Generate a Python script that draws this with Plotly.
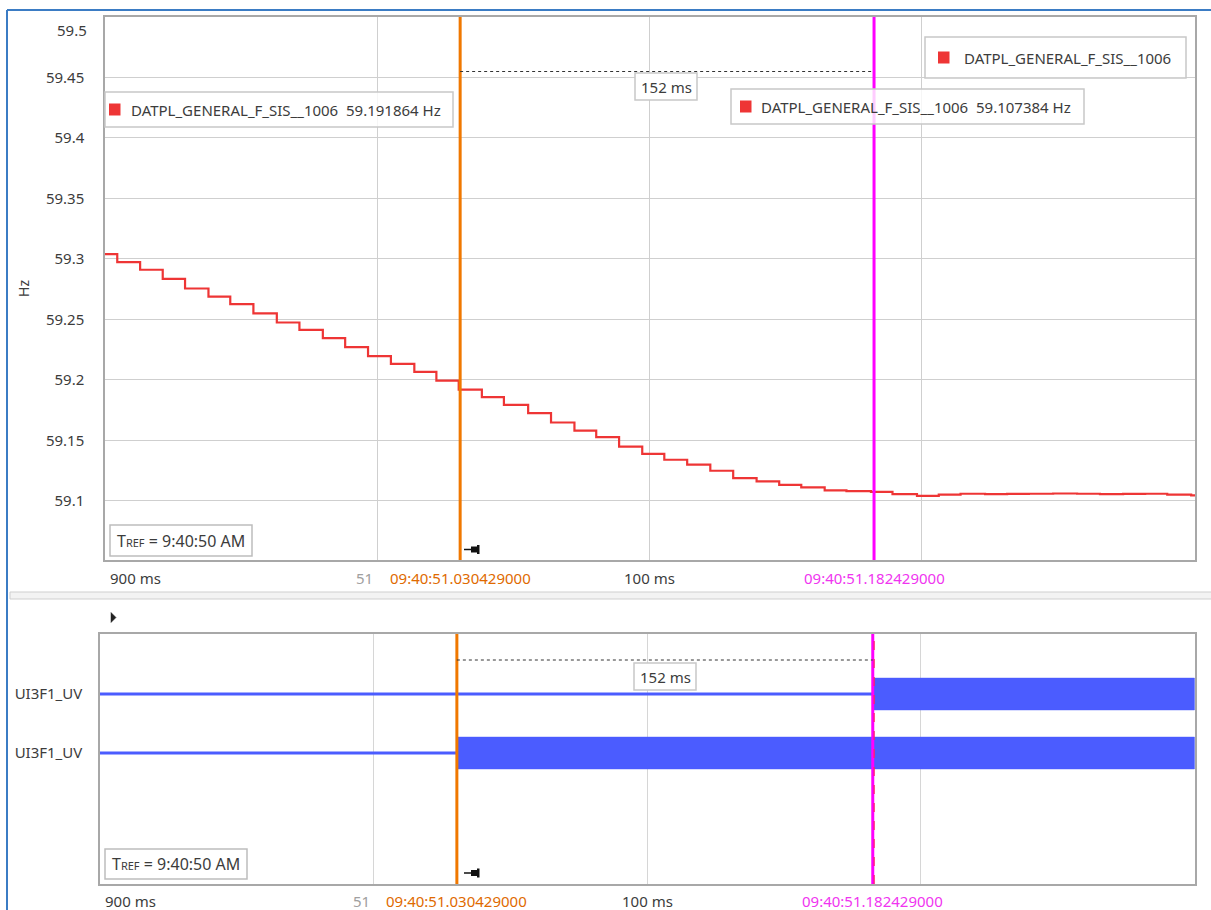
import plotly.graph_objects as go

W, H = 1211, 910
FONT = "Noto Sans"
FS = 15

# ---------------- data ----------------
# time in ms after 09:40:50 (TREF), i.e. 900 ms = 09:40:50.900
freq_t = [900.0, 904.5, 912.9, 921.2, 929.4, 938.0, 946.0, 954.5, 963.1, 971.4,
          980.0, 988.2, 996.6, 1005.0, 1013.6, 1021.7, 1029.9, 1038.4, 1046.5, 1055.4,
          1063.8, 1072.4, 1080.4, 1088.8, 1097.3, 1105.4, 1113.8, 1122.3, 1130.7, 1139.3,
          1147.6, 1155.7, 1164.3, 1172.3, 1181.3, 1189.2, 1198.2, 1206.2, 1214.2, 1223.2,
          1231.3, 1239.3, 1248.2, 1257.0, 1265.4, 1273.9, 1282.0, 1290.1, 1298.9, 1300.5]
freq_hz = [59.3039, 59.2973, 59.2910, 59.2835, 59.2755, 59.2688, 59.2626, 59.2550, 59.2474, 59.2413,
           59.2344, 59.2270, 59.2196, 59.2132, 59.2066, 59.1994, 59.191864, 59.1857, 59.1793, 59.1724,
           59.1647, 59.1580, 59.1526, 59.1448, 59.1388, 59.1339, 59.1298, 59.1248, 59.1187, 59.1160,
           59.1132, 59.1110, 59.1085, 59.1080, 59.107384, 59.1055, 59.1040, 59.1050, 59.1058, 59.1055,
           59.1056, 59.1058, 59.1060, 59.1058, 59.1055, 59.1057, 59.1058, 59.1050, 59.1045, 59.1040]

y_ticks = [59.1, 59.15, 59.2, 59.25, 59.3, 59.35, 59.4, 59.45, 59.5]
y_tick_text = ["59.1", "59.15", "59.2", "59.25", "59.3", "59.35", "59.4", "59.45", "59.5"]
x_ticks = [900, 1000, 1100, 1200, 1300]
x_tick_text = ["900 ms", "51", "100 ms", "", ""]

cursor1_ms = 1030.429
cursor2_ms = 1182.429
cursor1_label = "09:40:51.030429000"
cursor2_label = "09:40:51.182429000"
delta_label = "152 ms"

signal_names = ["UI3F1_UV", "UI3F1_UV"]
signal_rows = [1, 0]
signal_switch_ms = [1182.8, 1030.7]
signal_end_ms = 1300

series_name = "DATPL_GENERAL_F_SIS__1006"
cursor1_value = "59.191864 Hz"
cursor2_value = "59.107384 Hz"
tref_text = "T<span style='font-size:11px'>REF</span> = 9:40:50 AM"

# ---------------- colours ----------------
RED = "#ee3535"
BLUE = "#4b5cff"
ORANGE = "#f07800"
MAGENTA = "#ff00ff"
GRID = "#cfcfcf"
FRAME = "#a8a8a8"
TXT = "#3c3c3c"
BOXLINE = "#c8c8c8"


def px(x):
    return x / W


def py(y):
    return 1 - y / H


fig = go.Figure()

# top: frequency step line
fig.add_trace(go.Scatter(x=freq_t, y=freq_hz, mode="lines", line=dict(color=RED, width=2.2, shape="hv"),
                         xaxis="x", yaxis="y", hoverinfo="skip"))

# bottom: binary signals
band = 0.27
for name, row, sw in zip(signal_names, signal_rows, signal_switch_ms):
    fig.add_trace(go.Scatter(x=[900, sw], y=[row, row], mode="lines", line=dict(color=BLUE, width=3),
                             xaxis="x2", yaxis="y2", hoverinfo="skip"))
    fig.add_trace(go.Scatter(x=[sw, signal_end_ms, signal_end_ms, sw, sw],
                             y=[row - band, row - band, row + band, row + band, row - band],
                             mode="lines", fill="toself", fillcolor=BLUE, line=dict(color=BLUE, width=0.5),
                             xaxis="x2", yaxis="y2", hoverinfo="skip"))

axis_common = dict(showline=True, linecolor=FRAME, linewidth=1.5, mirror=True, zeroline=False)

fig.update_layout(
    width=W, height=H, margin=dict(l=0, r=0, t=0, b=0),
    paper_bgcolor="white", plot_bgcolor="white", showlegend=False,
    font=dict(family=FONT, size=FS, color=TXT),
    xaxis=dict(domain=[px(105), px(1195)], range=[900, 1300.3], tickvals=x_ticks, showticklabels=False,
               anchor="y", showgrid=True, gridcolor=GRID, gridwidth=1, **axis_common),
    yaxis=dict(domain=[py(560), py(17)], range=[59.051, 59.5], tickvals=y_ticks[:-1], ticktext=y_tick_text[:-1],
               anchor="x", showgrid=True, gridcolor=GRID, gridwidth=1, ticks="", ticklabelstandoff=16,
               title=dict(text="Hz", font=dict(size=14), standoff=13), **axis_common),
    xaxis2=dict(domain=[px(100), px(1195)], range=[900, 1300.2], tickvals=x_ticks, showticklabels=False,
                anchor="y2", showgrid=True, gridcolor="#d6d6d6", gridwidth=1, **axis_common),
    yaxis2=dict(domain=[py(884), py(634)], range=[-2.22, 2.017], tickvals=signal_rows, ticktext=signal_names,
                anchor="x2", showgrid=False, ticks="", ticklabelstandoff=13, **axis_common),
)

shapes = []
ann = []

# window frame (blue) and panel separator
shapes.append(dict(type="line", xref="paper", yref="paper", x0=px(7), x1=px(7), y0=py(10), y1=py(912),
                   line=dict(color="#3b7cc4", width=2)))
shapes.append(dict(type="line", xref="paper", yref="paper", x0=px(7), x1=px(1213), y0=py(10), y1=py(10),
                   line=dict(color="#3b7cc4", width=2)))
shapes.append(dict(type="rect", xref="paper", yref="paper", x0=px(10), x1=px(1213), y0=py(599), y1=py(592),
                   line=dict(color="#cfcfcf", width=1), fillcolor="#f3f3f3"))
# small expander triangle
shapes.append(dict(type="path", xref="paper", yref="paper",
                   path=f"M {px(111)} {py(612.5)} L {px(116)} {py(617.5)} L {px(111)} {py(622.5)} Z",
                   fillcolor="#222", line=dict(color="#222", width=0.5)))

# cursors
for xa, ya in (("x", "y"), ("x2", "y2")):
    shapes.append(dict(type="line", xref=xa, yref=f"{ya} domain", x0=cursor1_ms, x1=cursor1_ms, y0=0, y1=1,
                       line=dict(color=ORANGE, width=3)))
    shapes.append(dict(type="line", xref=xa, yref=f"{ya} domain", x0=cursor2_ms, x1=cursor2_ms, y0=0, y1=1,
                       line=dict(color=MAGENTA, width=3)))
shapes.append(dict(type="line", xref="x2", yref="y2 domain", x0=cursor2_ms + 0.5, x1=cursor2_ms + 0.5, y0=0, y1=1,
                   line=dict(color="#ff2060", width=1.2, dash="dash")))

# delta dotted lines
for xa, ypix in (("x", 71.5), ("x2", 660)):
    shapes.append(dict(type="line", xref=xa, yref="paper", x0=cursor1_ms, x1=cursor2_ms, y0=py(ypix), y1=py(ypix),
                       line=dict(color="#333", width=1, dash="dot")))

# pin icons
for ycen in (549.5, 873):
    shapes.append(dict(type="line", xref="paper", yref="paper", x0=px(464), x1=px(472), y0=py(ycen), y1=py(ycen),
                       line=dict(color="#111", width=1.5)))
    shapes.append(dict(type="rect", xref="paper", yref="paper", x0=px(471), x1=px(477), y0=py(ycen + 3),
                       y1=py(ycen - 3), fillcolor="#111", line=dict(width=0)))
    shapes.append(dict(type="rect", xref="paper", yref="paper", x0=px(477), x1=px(479.5), y0=py(ycen + 4.5),
                       y1=py(ycen - 4.5), fillcolor="#111", line=dict(width=0)))

# 59.5 tick label (placed just inside top like the original)
ann.append(dict(xref="paper", yref="paper", x=px(89), y=py(30), text=y_tick_text[-1], showarrow=False,
                xanchor="right", yanchor="middle", font=dict(size=FS, color=TXT)))

# x tick labels + cursor labels for both panels
for xa, ypix in (("x", 578), ("x2", 901)):
    ann.append(dict(xref=xa, yref="paper", x=x_ticks[0], y=py(ypix), text=x_tick_text[0], showarrow=False,
                    xanchor="left", yanchor="middle", xshift=3, font=dict(size=FS, color=TXT)))
    ann.append(dict(xref=xa, yref="paper", x=x_ticks[1], y=py(ypix), text=x_tick_text[1], showarrow=False,
                    xanchor="right", yanchor="middle", xshift=-2, font=dict(size=FS, color="#a0a0a0")))
    ann.append(dict(xref=xa, yref="paper", x=x_ticks[2], y=py(ypix), text=x_tick_text[2], showarrow=False,
                    xanchor="center", yanchor="middle", font=dict(size=FS, color=TXT)))
    ann.append(dict(xref=xa, yref="paper", x=cursor1_ms, y=py(ypix), text=cursor1_label, showarrow=False,
                    xanchor="center", yanchor="middle", font=dict(size=FS, color="#e06a00")))
    ann.append(dict(xref=xa, yref="paper", x=cursor2_ms, y=py(ypix), text=cursor2_label, showarrow=False,
                    xanchor="center", yanchor="middle", font=dict(size=FS, color="#f035f0")))


def box(x0, y0, x1, y1, fill="rgba(255,255,255,0.8)", line=BOXLINE, lw=1.5):
    shapes.append(dict(type="rect", xref="paper", yref="paper", x0=px(x0), x1=px(x1), y0=py(y1), y1=py(y0),
                       fillcolor=fill, line=dict(color=line, width=lw), layer="above"))


def label(x, y, text, anchor="left", color=TXT, size=FS):
    ann.append(dict(xref="paper", yref="paper", x=px(x), y=py(y), text=text, showarrow=False,
                    xanchor=anchor, yanchor="middle", font=dict(size=size, color=color)))


# delta labels
for (x0, y0, x1, y1) in ((635, 73, 697, 100), (634, 663, 696, 690)):
    box(x0, y0, x1, y1, fill="white")
    label((x0 + x1) / 2, (y0 + y1) / 2, delta_label, anchor="center")

# value boxes: (box x0, y0, x1, y1, square x0, text x, text)
value_boxes = [
    (105, 92, 453, 127, 109, 129, f"{series_name}  {cursor1_value}"),
    (731, 89, 1084, 124, 740, 759, f"{series_name}  {cursor2_value}"),
    (925, 37, 1186, 78, 938, 962, series_name),
]
for (x0, y0, x1, y1, sx, tx, txt) in value_boxes:
    box(x0, y0, x1, y1)
    cy = (y0 + y1) / 2
    shapes.append(dict(type="rect", xref="paper", yref="paper", x0=px(sx), x1=px(sx + 11.5), y0=py(cy + 6),
                       y1=py(cy - 6), fillcolor=RED, line=dict(width=0), layer="above"))
    label(tx, cy, txt)

# TREF boxes
for (x0, y0, x1, y1) in ((110, 525, 252, 556), (105, 849, 247, 879)):
    box(x0, y0, x1, y1, fill="white", line="#bdbdbd")
    label(x0 + 5, (y0 + y1) / 2, tref_text, size=16)

fig.update_layout(shapes=shapes, annotations=ann)
fig.write_html("out.html", config={"displayModeBar": False},
               post_script="document.body.style.margin='0px';document.body.style.overflow='hidden';")
